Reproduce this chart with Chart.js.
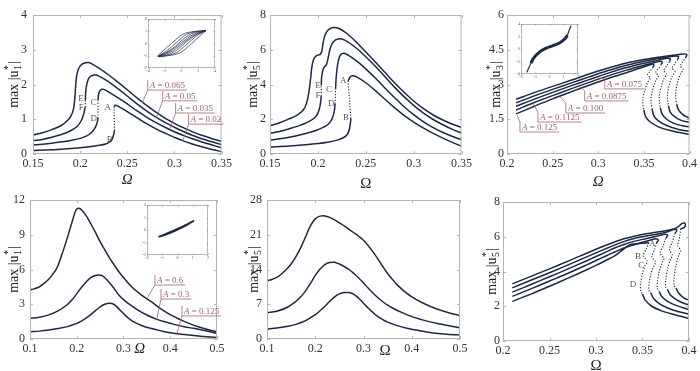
<!DOCTYPE html>
<html><head><meta charset="utf-8">
<script src="https://cdn.jsdelivr.net/npm/chart.js@4.4.1/dist/chart.umd.min.js"></script>
<style>
html,body{margin:0;padding:0;background:#fff;}
#wrap{position:relative;width:700px;height:371px;overflow:hidden;background:#fff;}
canvas{position:absolute;}
</style></head><body>
<div id="wrap">
<canvas id="c1"></canvas><canvas id="c2"></canvas><canvas id="c3"></canvas>
<canvas id="c4"></canvas><canvas id="c5"></canvas><canvas id="c6"></canvas>
<canvas id="i1"></canvas><canvas id="i3"></canvas><canvas id="i4"></canvas>
</div>
<script>
// ---------- tick labels ----------
const p1_xTicks = [0.15, 0.2, 0.25, 0.3, 0.35];
const p1_yTicks = [0, 1, 2, 3, 4];
const p2_xTicks = [0.15, 0.2, 0.25, 0.3, 0.35];
const p2_yTicks = [0, 2, 4, 6, 8];
const p3_xTicks = [0.2, 0.25, 0.3, 0.35, 0.4];
const p3_yTicks = [0, 1.5, 3, 4.5, 6];
const p4_xTicks = [0.1, 0.2, 0.3, 0.4, 0.5];
const p4_yTicks = [0, 3, 6, 9, 12];
const p5_xTicks = [0.1, 0.2, 0.3, 0.4, 0.5];
const p5_yTicks = [0, 7, 14, 21, 28];
const p6_xTicks = [0.2, 0.25, 0.3, 0.35, 0.4];
const p6_yTicks = [0, 2, 4, 6, 8];
const i1_xTicks = [-4, -2, 0, 2, 4];
const i1_yTicks = [-2, -1, 0, 1, 2];
const i3_xTicks = [-2, -1, 0, 1, 2];
const i3_yTicks = [-4, -2, 0, 2, 4];
const i4_xTicks = [-2, -1, 0, 1, 2];
const i4_yTicks = [-2, -1, 0, 1, 2];

// ---------- panel 1 : max|u1*| vs Omega, A = 0.065, 0.05, 0.035, 0.02 ----------
const p1_a065 = [[0.15,0.55],[0.16,0.61],[0.17,0.7],[0.18,0.82],[0.186,0.95],[0.19,1.08],[0.193,1.3],[0.1945,1.65],[0.1955,2.05],[0.197,2.35],[0.2,2.53],[0.204,2.61],[0.209,2.63],[0.212,2.6],[0.22,2.47],[0.23,2.28],[0.24,2.07],[0.25,1.85],[0.26,1.62],[0.27,1.41],[0.28,1.21],[0.29,1.03],[0.3,0.88],[0.31,0.75],[0.32,0.63],[0.33,0.53],[0.34,0.44],[0.35,0.36]];
const p1_a05_lo = [[0.15,0.38],[0.16,0.42],[0.17,0.48],[0.18,0.56],[0.19,0.67],[0.197,0.8],[0.201,0.95],[0.2035,1.12],[0.205,1.3],[0.2055,1.35]];
const p1_a05_un = [[0.2055,1.35],[0.2055,1.55]];
const p1_a05_up = [[0.2055,1.55],[0.206,1.8],[0.207,2.0],[0.209,2.17],[0.212,2.25],[0.216,2.27],[0.22,2.24],[0.23,2.08],[0.24,1.88],[0.25,1.67],[0.26,1.45],[0.27,1.25],[0.28,1.07],[0.29,0.91],[0.3,0.77],[0.31,0.64],[0.32,0.53],[0.33,0.43],[0.34,0.35],[0.35,0.27]];
const p1_a035_lo = [[0.15,0.26],[0.16,0.28],[0.17,0.31],[0.18,0.35],[0.19,0.39],[0.2,0.45],[0.207,0.52],[0.212,0.62],[0.216,0.76],[0.218,0.9],[0.219,1.03]];
const p1_a035_un = [[0.219,1.03],[0.219,1.55]];
const p1_a035_up = [[0.219,1.55],[0.2195,1.7],[0.2205,1.8],[0.2225,1.86],[0.225,1.86],[0.23,1.79],[0.24,1.62],[0.25,1.44],[0.26,1.25],[0.27,1.07],[0.28,0.91],[0.29,0.77],[0.3,0.64],[0.31,0.53],[0.32,0.43],[0.33,0.34],[0.34,0.26],[0.35,0.18]];
const p1_a02_lo = [[0.15,0.1],[0.17,0.12],[0.19,0.16],[0.2,0.18],[0.21,0.21],[0.22,0.25],[0.227,0.29],[0.231,0.34],[0.234,0.43],[0.2355,0.55],[0.2365,0.68]];
const p1_a02_un = [[0.2365,0.68],[0.236,1.36]];
const p1_a02_up = [[0.236,1.36],[0.2375,1.4],[0.24,1.38],[0.25,1.22],[0.26,1.05],[0.27,0.88],[0.28,0.73],[0.29,0.6],[0.3,0.48],[0.31,0.37],[0.32,0.28],[0.33,0.2],[0.34,0.13],[0.35,0.07]];

// ---------- panel 2 : max|u5*| ----------
const p2_c1 = [[0.15,1.62],[0.16,1.8],[0.17,2.02],[0.178,2.22],[0.185,2.55],[0.188,2.9],[0.1905,3.5],[0.1925,4.4],[0.194,5.1],[0.196,5.5],[0.199,5.68],[0.202,5.72],[0.204,5.9],[0.2055,6.4],[0.2075,6.85],[0.211,7.15],[0.216,7.28],[0.222,7.22],[0.23,6.95],[0.24,6.45],[0.25,5.88],[0.26,5.3],[0.27,4.7],[0.28,4.1],[0.29,3.55],[0.3,3.05],[0.31,2.62],[0.32,2.26],[0.33,1.97],[0.34,1.73],[0.35,1.53]];
const p2_c2_lo = [[0.15,1.19],[0.16,1.3],[0.17,1.45],[0.18,1.62],[0.19,1.85],[0.197,2.1],[0.2,2.35],[0.202,2.7],[0.203,3.05],[0.2035,3.35]];
const p2_c2_un = [[0.2035,3.35],[0.2035,3.95]];
const p2_c2_up = [[0.2035,3.95],[0.204,4.45],[0.2055,4.88],[0.2075,5.05],[0.209,5.15],[0.211,5.6],[0.213,6.1],[0.216,6.45],[0.221,6.62],[0.228,6.55],[0.24,6.1],[0.25,5.6],[0.26,5.05],[0.27,4.45],[0.28,3.85],[0.29,3.3],[0.3,2.8],[0.31,2.37],[0.32,2.0],[0.33,1.7],[0.34,1.43],[0.35,1.2]];
const p2_c3_lo = [[0.15,0.8],[0.16,0.88],[0.17,0.97],[0.18,1.08],[0.19,1.22],[0.2,1.4],[0.208,1.6],[0.213,1.85],[0.216,2.2],[0.2175,2.6],[0.218,2.9]];
const p2_c3_un = [[0.218,2.9],[0.2185,3.75]];
const p2_c3_up = [[0.2185,3.75],[0.219,4.3],[0.22,4.9],[0.2215,5.4],[0.2235,5.7],[0.227,5.8],[0.232,5.68],[0.24,5.37],[0.25,4.9],[0.26,4.37],[0.27,3.8],[0.28,3.25],[0.29,2.72],[0.3,2.27],[0.31,1.87],[0.32,1.53],[0.33,1.25],[0.34,1.02],[0.35,0.82]];
const p2_c4_lo = [[0.15,0.4],[0.17,0.46],[0.19,0.54],[0.2,0.6],[0.21,0.68],[0.22,0.8],[0.227,0.95],[0.231,1.15],[0.233,1.45],[0.234,1.8],[0.2345,2.05]];
const p2_c4_un = [[0.2345,2.05],[0.2315,4.2]];
const p2_c4_up = [[0.2315,4.2],[0.2335,4.42],[0.236,4.5],[0.24,4.45],[0.25,4.1],[0.26,3.65],[0.27,3.15],[0.28,2.67],[0.29,2.22],[0.3,1.84],[0.31,1.5],[0.32,1.2],[0.33,0.93],[0.34,0.68],[0.35,0.45]];

// ---------- panel 3 : max|u3*|, A = 0.075 ... 0.125 (upper / unstable / lower) ----------
const p3_k0_up = [[0.21,2.36],[0.23,2.65],[0.25,2.92],[0.27,3.18],[0.29,3.45],[0.31,3.7],[0.33,3.92],[0.35,4.08],[0.37,4.2],[0.385,4.27],[0.393,4.32],[0.397,4.3],[0.396,4.18]];
const p3_k0_un = [[0.396,4.18],[0.393,4.0],[0.39,3.8],[0.393,3.65],[0.39,3.45],[0.387,3.1],[0.385,2.7],[0.385,2.35],[0.386,2.15]];
const p3_k0_lo = [[0.386,2.15],[0.388,1.9],[0.392,1.72],[0.396,1.62],[0.4,1.54]];
const p3_k1_up = [[0.21,2.21],[0.23,2.51],[0.25,2.79],[0.27,3.06],[0.29,3.33],[0.31,3.59],[0.33,3.82],[0.35,4.0],[0.365,4.12],[0.378,4.2],[0.385,4.23],[0.388,4.2],[0.387,4.08]];
const p3_k1_un = [[0.387,4.08],[0.384,3.9],[0.381,3.7],[0.384,3.55],[0.381,3.35],[0.378,3.0],[0.376,2.6],[0.376,2.3],[0.377,2.08]];
const p3_k1_lo = [[0.377,2.08],[0.379,1.8],[0.384,1.6],[0.391,1.45],[0.4,1.36]];
const p3_k2_up = [[0.21,2.06],[0.23,2.37],[0.25,2.66],[0.27,2.94],[0.29,3.21],[0.31,3.48],[0.33,3.72],[0.35,3.92],[0.365,4.05],[0.375,4.13],[0.379,4.1],[0.378,3.98]];
const p3_k2_un = [[0.378,3.98],[0.375,3.8],[0.372,3.6],[0.375,3.45],[0.372,3.25],[0.369,2.9],[0.367,2.52],[0.367,2.22],[0.368,2.0]];
const p3_k2_lo = [[0.368,2.0],[0.37,1.72],[0.375,1.5],[0.383,1.32],[0.391,1.23],[0.4,1.17]];
const p3_k3_up = [[0.21,1.9],[0.23,2.22],[0.25,2.52],[0.27,2.81],[0.29,3.09],[0.31,3.36],[0.33,3.61],[0.35,3.83],[0.362,3.95],[0.368,4.0],[0.37,3.97],[0.369,3.86]];
const p3_k3_un = [[0.369,3.86],[0.366,3.7],[0.363,3.52],[0.366,3.37],[0.363,3.17],[0.36,2.83],[0.358,2.47],[0.358,2.18],[0.359,1.95]];
const p3_k3_lo = [[0.359,1.95],[0.361,1.65],[0.366,1.43],[0.375,1.23],[0.387,1.07],[0.4,0.98]];
const p3_k4_up = [[0.21,1.73],[0.23,2.06],[0.25,2.38],[0.27,2.68],[0.29,2.97],[0.31,3.25],[0.33,3.5],[0.345,3.7],[0.355,3.83],[0.36,3.88],[0.361,3.84],[0.36,3.74]];
const p3_k4_un = [[0.36,3.74],[0.357,3.58],[0.354,3.42],[0.357,3.28],[0.354,3.08],[0.351,2.75],[0.349,2.4],[0.349,2.12],[0.35,1.9]];
const p3_k4_lo = [[0.35,1.9],[0.352,1.6],[0.357,1.38],[0.366,1.17],[0.38,1.0],[0.4,0.84]];

// ---------- panel 4 : max|u1*|, A = 0.6, 0.3, 0.125 ----------
const p4_a06 = [[0.1,4.23],[0.11,4.35],[0.12,4.5],[0.13,4.8],[0.14,5.15],[0.15,5.67],[0.155,5.95],[0.16,6.35],[0.17,7.5],[0.18,8.75],[0.19,10.1],[0.196,10.9],[0.2,11.22],[0.205,11.28],[0.21,11.15],[0.22,10.65],[0.23,9.95],[0.24,9.2],[0.25,8.4],[0.26,7.7],[0.27,7.0],[0.28,6.4],[0.29,5.8],[0.3,5.3],[0.32,4.4],[0.34,3.75],[0.36,3.2],[0.38,2.6],[0.4,2.1],[0.42,1.7],[0.44,1.35],[0.46,1.05],[0.48,0.82],[0.5,0.63]];
const p4_a03 = [[0.1,1.78],[0.12,1.88],[0.14,2.08],[0.16,2.42],[0.18,2.98],[0.19,3.38],[0.2,3.92],[0.21,4.45],[0.22,4.92],[0.23,5.3],[0.24,5.48],[0.247,5.53],[0.255,5.45],[0.265,5.1],[0.28,4.35],[0.29,3.8],[0.3,3.4],[0.31,3.08],[0.33,2.52],[0.35,2.07],[0.37,1.72],[0.39,1.46],[0.41,1.24],[0.43,1.06],[0.45,0.92],[0.47,0.76],[0.5,0.49]];
const p4_a0125 = [[0.1,0.63],[0.12,0.68],[0.14,0.77],[0.16,0.9],[0.18,1.07],[0.2,1.35],[0.21,1.55],[0.22,1.8],[0.23,2.1],[0.24,2.45],[0.25,2.78],[0.26,3.0],[0.27,3.08],[0.28,2.98],[0.29,2.6],[0.3,2.2],[0.31,1.82],[0.32,1.52],[0.34,1.15],[0.36,0.9],[0.38,0.7],[0.4,0.53],[0.43,0.38],[0.46,0.26],[0.5,0.14]];

// ---------- panel 5 : max|u5*| ----------
const p5_c1 = [[0.1,11.75],[0.11,12.0],[0.12,12.4],[0.13,13.1],[0.14,14.0],[0.15,15.1],[0.16,16.6],[0.17,18.4],[0.18,20.6],[0.19,22.8],[0.2,24.2],[0.21,24.75],[0.22,24.8],[0.23,24.5],[0.24,24.0],[0.25,23.4],[0.26,22.8],[0.27,22.1],[0.28,21.4],[0.29,20.7],[0.3,19.9],[0.31,18.8],[0.32,17.5],[0.33,16.1],[0.34,14.6],[0.35,13.2],[0.36,12.0],[0.37,10.9],[0.38,10.0],[0.39,9.2],[0.4,8.5],[0.42,7.4],[0.44,6.5],[0.46,5.8],[0.48,5.2],[0.5,4.7]];
const p5_c2 = [[0.1,5.3],[0.12,5.6],[0.14,6.3],[0.16,7.6],[0.17,8.5],[0.18,9.7],[0.19,11.2],[0.2,12.8],[0.21,14.1],[0.22,15.0],[0.23,15.4],[0.24,15.45],[0.25,15.1],[0.26,14.6],[0.27,14.0],[0.28,13.2],[0.29,12.3],[0.3,11.3],[0.31,10.2],[0.32,9.2],[0.33,8.3],[0.34,7.5],[0.35,6.8],[0.36,6.25],[0.38,5.3],[0.4,4.5],[0.42,3.9],[0.44,3.4],[0.46,3.0],[0.48,2.6],[0.5,2.28]];
const p5_c3 = [[0.1,2.0],[0.12,2.2],[0.14,2.5],[0.16,2.95],[0.18,3.7],[0.2,4.9],[0.21,5.7],[0.22,6.6],[0.23,7.6],[0.24,8.5],[0.25,9.1],[0.26,9.35],[0.27,9.35],[0.28,9.0],[0.29,8.2],[0.3,7.2],[0.31,6.2],[0.32,5.3],[0.33,4.5],[0.34,3.9],[0.35,3.4],[0.37,2.7],[0.39,2.15],[0.42,1.6],[0.45,1.15],[0.48,0.92],[0.5,0.8]];

// ---------- panel 6 : max|u5*| (upper / unstable / lower) ----------
const p6_k0_up = [[0.21,3.29],[0.23,3.72],[0.25,4.15],[0.27,4.6],[0.29,5.05],[0.3,5.28],[0.31,5.5],[0.32,5.7],[0.33,5.88],[0.34,6.02],[0.35,6.13],[0.36,6.22],[0.37,6.3],[0.38,6.4],[0.386,6.5],[0.39,6.65],[0.393,6.78],[0.396,6.75],[0.395,6.55],[0.391,6.45]];
const p6_k0_un = [[0.391,6.45],[0.39,6.0],[0.388,5.5],[0.391,5.2],[0.389,4.95],[0.386,4.35],[0.384,3.65],[0.384,3.2],[0.386,3.05]];
const p6_k0_lo = [[0.386,3.05],[0.389,2.75],[0.394,2.5],[0.4,2.35]];
const p6_k1_up = [[0.21,3.06],[0.23,3.5],[0.25,3.93],[0.27,4.38],[0.29,4.84],[0.3,5.07],[0.31,5.3],[0.32,5.52],[0.33,5.72],[0.34,5.88],[0.35,6.0],[0.36,6.1],[0.37,6.2],[0.378,6.3],[0.384,6.42],[0.387,6.38],[0.385,6.2]];
const p6_k1_un = [[0.385,6.2],[0.382,5.7],[0.379,5.25],[0.382,4.95],[0.38,4.7],[0.377,4.15],[0.375,3.5],[0.375,3.1],[0.377,2.95]];
const p6_k1_lo = [[0.377,2.95],[0.38,2.65],[0.386,2.4],[0.393,2.2],[0.4,2.08]];
const p6_k2_up = [[0.21,2.81],[0.23,3.25],[0.25,3.7],[0.27,4.15],[0.29,4.62],[0.3,4.86],[0.31,5.1],[0.32,5.35],[0.33,5.55],[0.34,5.72],[0.35,5.85],[0.36,5.97],[0.368,6.07],[0.374,6.15],[0.377,6.08],[0.375,5.9]];
const p6_k2_un = [[0.375,5.9],[0.372,5.45],[0.369,5.05],[0.373,4.75],[0.371,4.5],[0.368,4.0],[0.366,3.4],[0.366,3.0],[0.368,2.85]];
const p6_k2_lo = [[0.368,2.85],[0.371,2.55],[0.377,2.28],[0.386,2.05],[0.4,1.8]];
const p6_k3_up = [[0.21,2.57],[0.23,3.0],[0.25,3.45],[0.27,3.9],[0.29,4.38],[0.3,4.63],[0.31,4.88],[0.32,5.12],[0.33,5.35],[0.34,5.52],[0.35,5.68],[0.358,5.8],[0.364,5.88],[0.367,5.8],[0.365,5.65]];
const p6_k3_un = [[0.365,5.65],[0.363,5.25],[0.36,4.85],[0.364,4.55],[0.362,4.3],[0.359,3.85],[0.357,3.3],[0.357,2.9],[0.359,2.75]];
const p6_k3_lo = [[0.359,2.75],[0.362,2.45],[0.368,2.15],[0.377,1.9],[0.388,1.7],[0.4,1.55]];
const p6_k4_up = [[0.21,2.28],[0.23,2.7],[0.25,3.15],[0.27,3.62],[0.29,4.1],[0.3,4.35],[0.31,4.62],[0.32,4.9],[0.33,5.3],[0.335,5.5],[0.34,5.58],[0.35,5.62],[0.357,5.65]];
const p6_k4_un = [[0.357,5.65],[0.354,5.3],[0.351,4.9],[0.355,4.6],[0.353,4.35],[0.35,3.9],[0.348,3.3],[0.348,2.9],[0.35,2.7]];
const p6_k4_lo = [[0.35,2.7],[0.353,2.35],[0.36,2.0],[0.37,1.75],[0.38,1.58],[0.39,1.44],[0.4,1.3]];

// ---------- insets ----------
const i1_loop1 = [[2.9,1.05],[1.5,0.98],[0.5,0.85],[-0.2,0.6],[-0.7,0.3],[-1.2,0],[-1.7,-0.3],[-2.2,-0.6],[-2.8,-1.05],[-1.5,-0.98],[-0.5,-0.85],[0.2,-0.6],[0.7,-0.3],[1.2,0],[1.7,0.3],[2.2,0.6],[2.9,1.05]];
const i1_loop2 = [[2.9,1.05],[1.5,0.95],[0.6,0.75],[0.1,0.5],[-0.4,0.2],[-0.9,-0.1],[-1.5,-0.45],[-2.1,-0.75],[-2.8,-1.05],[-1.5,-0.95],[-0.6,-0.75],[-0.1,-0.5],[0.4,-0.2],[0.9,0.1],[1.5,0.45],[2.1,0.75],[2.9,1.05]];
const i1_loop3 = [[2.9,1.05],[1.6,0.9],[0.8,0.65],[0.3,0.4],[-0.2,0.1],[-0.7,-0.2],[-1.3,-0.5],[-2.0,-0.8],[-2.8,-1.05],[-1.6,-0.9],[-0.8,-0.65],[-0.3,-0.4],[0.2,-0.1],[0.7,0.2],[1.3,0.5],[2.0,0.8],[2.9,1.05]];
const i1_loop4 = [[2.9,1.05],[1.8,0.85],[1.0,0.58],[0.5,0.33],[0,0.08],[-0.5,-0.2],[-1.1,-0.5],[-1.9,-0.8],[-2.8,-1.05],[-1.8,-0.85],[-1.0,-0.58],[-0.5,-0.33],[0,-0.08],[0.5,0.2],[1.1,0.5],[1.9,0.8],[2.9,1.05]];
const i3_curve = [[-1.59,-3.74],[-1.45,-3.0],[-1.34,-2.45],[-1.2,-1.85],[-1.1,-1.42],[-0.9,-0.9],[-0.73,-0.54],[-0.5,-0.2],[-0.24,0.13],[0,0.33],[0.24,0.54],[0.5,0.76],[0.73,1.01],[0.95,1.35],[1.1,1.68],[1.25,2.2],[1.34,2.71],[1.42,3.2],[1.51,3.74]];
const i3_band = [[-1.3,-2.25],[-1.1,-1.42],[-0.73,-0.54],[-0.24,0.13],[0.24,0.54],[0.73,1.01],[1.1,1.68],[1.25,2.2]];
const i4_loop = [[-1.25,-0.55],[-0.6,-0.22],[0,0.1],[0.5,0.38],[1.05,0.72],[0.5,0.33],[0,0.03],[-0.6,-0.3],[-1.25,-0.55]];

// ---------- annotation texts ----------
const p1_labels = [
  {t:'0.065', x:0.2717, y:1.84, lx:0.266, ly:1.47},
  {t:'0.05',  x:0.2876, y:1.53, lx:0.281, ly:1.05},
  {t:'0.035', x:0.3013, y:1.18, lx:0.295, ly:0.71},
  {t:'0.02',  x:0.315,  y:0.86, lx:0.309, ly:0.38}];
const p3_labels = [
  {t:'0.075',  x:0.3071, y:2.81, lx:0.2984, ly:3.3},
  {t:'0.0875', x:0.2852, y:2.29, lx:0.2776, ly:2.98},
  {t:'0.100',  x:0.2645, y:1.77, lx:0.2579, ly:2.46},
  {t:'0.1125', x:0.2339, y:1.38, lx:0.2284, ly:2.2},
  {t:'0.125',  x:0.2142, y:0.95, lx:0.2109, ly:1.68}];
const p4_labels = [
  {t:'0.6',   x:0.3674, y:4.66, lx:0.35,   ly:3.5},
  {t:'0.3',   x:0.3802, y:3.45, lx:0.3717, ly:1.8},
  {t:'0.125', x:0.4251, y:1.99, lx:0.4144, ly:0.48}];
const p1_letters = [['A',0.2294,1.32],['B',0.2315,0.42],['C',0.2145,1.48],['D',0.2145,1.03],['E',0.2008,1.58],['F',0.2011,1.34]];
const p2_letters = [['A',0.2265,4.2],['B',0.2295,2.11],['C',0.2115,3.72],['D',0.2139,2.92],['E',0.2001,3.95],['F',0.2001,3.35]];
const p6_letters = [['A',0.3606,5.59],['B',0.3452,4.88],['C',0.3487,4.34],['D',0.3398,3.25]];

// ---------- drawing helpers ----------
const SERIF = '"Liberation Serif", "DejaVu Serif", serif';
const COL = '#1b2846';
function solid(pts, w){ return {data: pts.map(p=>({x:p[0],y:p[1]})), borderColor:COL, borderWidth:w||1.5, pointRadius:0, showLine:true, tension:0.35, fill:false}; }
function dotted(pts){ return {data: pts.map(p=>({x:p[0],y:p[1]})), borderColor:COL, borderWidth:1.1, borderDash:[1.2,1.6], pointRadius:0, showLine:true, tension:0.3, fill:false}; }
function branches(up, un, lo){ return [solid(up), dotted(un), solid(lo)]; }

function drawYTitle(ctx, cx, cy, sub){
  ctx.save(); ctx.translate(cx, cy); ctx.rotate(-Math.PI/2);
  ctx.fillStyle = '#222'; ctx.textAlign = 'left'; ctx.textBaseline = 'alphabetic';
  const F1 = '14px ' + SERIF, F2 = '10px ' + SERIF;
  ctx.font = F1; const w1 = ctx.measureText('max |u').width, w3 = ctx.measureText('|').width;
  ctx.font = F2; const w2 = Math.max(ctx.measureText('*').width, ctx.measureText(sub).width);
  let x = -(w1 + w2 + 1.5 + w3) / 2; const base = 5;
  ctx.font = F1; ctx.fillText('max |u', x, base); x += w1 + 0.5;
  ctx.font = F2; ctx.fillText('*', x, base - 7); ctx.fillText(sub, x, base + 3); x += w2 + 1;
  ctx.font = F1; ctx.fillText('|', x, base);
  ctx.restore();
}

function deco(cfg){
  return {
    id: 'deco_' + cfg.id,
    beforeDatasetsDraw(chart){
      if (cfg.inset){ const a = chart.chartArea, c = chart.ctx; c.save(); c.fillStyle = '#fff'; c.fillRect(a.left, a.top, a.right-a.left, a.bottom-a.top); c.restore(); }
    },
    afterDatasetsDraw(chart){
      const c = chart.ctx, a = chart.chartArea, xs = chart.scales.x, ys = chart.scales.y;
      c.save();
      // frame
      c.strokeStyle = cfg.inset ? '#888' : '#b5b5b5'; c.lineWidth = cfg.inset ? 0.6 : 1;
      c.strokeRect(a.left + 0.5, a.top + 0.5, a.right - a.left - 1, a.bottom - a.top - 1);
      // inward ticks on all four sides
      const tl = cfg.inset ? 1.5 : 3;
      c.beginPath();
      cfg.xt.forEach(v => { const px = Math.round(xs.getPixelForValue(v)) + 0.5; c.moveTo(px, a.bottom); c.lineTo(px, a.bottom - tl); c.moveTo(px, a.top); c.lineTo(px, a.top + tl); });
      cfg.yt.forEach(v => { const py = Math.round(ys.getPixelForValue(v)) + 0.5; c.moveTo(a.left, py); c.lineTo(a.left + tl, py); c.moveTo(a.right, py); c.lineTo(a.right - tl, py); });
      c.stroke();
      // letters
      if (cfg.letters){
        c.fillStyle = '#5a5a5a'; c.font = '9px ' + SERIF; c.textAlign = 'center'; c.textBaseline = 'middle';
        cfg.letters.forEach(L => c.fillText(L[0], xs.getPixelForValue(L[1]), ys.getPixelForValue(L[2])));
      }
      // A = ... labels
      if (cfg.labels){
        const lc = '#a0646c';
        cfg.labels.forEach(L => {
          const px = xs.getPixelForValue(L.x), py = ys.getPixelForValue(L.y);
          const ex = xs.getPixelForValue(L.lx), ey = ys.getPixelForValue(L.ly);
          c.textAlign = 'left'; c.textBaseline = 'alphabetic'; c.fillStyle = lc;
          c.font = 'italic 9px ' + SERIF; const wa = c.measureText('A').width; c.fillText('A', px + 2, py - 2);
          c.font = '9px ' + SERIF; const rest = ' = ' + L.t; const wr = c.measureText(rest).width; c.fillText(rest, px + 2 + wa, py - 2);
          const w = wa + wr + 4;
          c.strokeStyle = lc; c.lineWidth = 0.8; c.beginPath();
          c.moveTo(px, py - 10); c.lineTo(px, py); c.lineTo(px + w, py);
          const sy = (ey < py - 5) ? py - 10 : py;
          c.moveTo(px, sy); c.lineTo(ex, ey); c.stroke();
        });
      }
      // axis titles
      if (cfg.ysub) drawYTitle(c, a.left + cfg.ydx, (a.top + a.bottom) / 2, cfg.ysub);
      if (cfg.omega){
        const o = cfg.omega;
        c.fillStyle = '#222'; c.font = (o.italic ? 'italic ' : '') + '15px ' + SERIF; c.textAlign = 'center'; c.textBaseline = 'middle';
        const ox = (o.x == null) ? (a.left + a.right) / 2 : xs.getPixelForValue(o.x);
        c.fillText('\u03A9', ox, a.bottom + o.dy);
      }
      c.restore();
    }
  };
}

function panel(cfg){
  const cv = document.getElementById(cfg.id);
  const [bl, bt, bw, bh] = cfg.box;
  cv.width = bw; cv.height = bh;
  cv.style.left = bl + 'px'; cv.style.top = bt + 'px'; cv.style.width = bw + 'px'; cv.style.height = bh + 'px';
  const [al, at, ar, ab] = cfg.area;
  const yw = al - bl, pt = at - bt, pr = bl + bw - ar, xh = bt + bh - ab;
  const fs = cfg.inset ? 4 : 12;
  const tcol = cfg.inset ? '#555' : '#333';
  new Chart(cv, {
    type: 'scatter',
    data: { datasets: cfg.datasets },
    options: {
      responsive: false, animation: false, events: [],
      layout: { padding: { top: pt, right: pr, left: 0, bottom: 0 } },
      plugins: { legend: { display: false }, tooltip: { enabled: false } },
      scales: {
        x: { type: 'linear', min: cfg.xr[0], max: cfg.xr[1],
             grid: { display: false, drawTicks: false }, border: { display: false },
             ticks: { font: { family: SERIF, size: fs }, color: tcol, padding: cfg.inset ? 1 : 3, autoSkip: false, maxRotation: 0, minRotation: 0, callback: v => String(v) },
             afterBuildTicks: s => { s.ticks = cfg.xt.map(v => ({ value: v })); },
             afterFit: s => { s.height = xh; } },
        y: { type: 'linear', min: cfg.yr[0], max: cfg.yr[1],
             grid: { display: false, drawTicks: false }, border: { display: false },
             ticks: { font: { family: SERIF, size: fs }, color: tcol, padding: cfg.ypad, autoSkip: false, callback: v => String(v) },
             afterBuildTicks: s => { s.ticks = cfg.yt.map(v => ({ value: v })); },
             afterFit: s => { s.width = yw; } }
      }
    },
    plugins: [deco(cfg)]
  });
}

// ---------- build panels ----------
panel({ id:'c1', box:[0,0,235,190], area:[33,15,222,154], xr:[0.15,0.35], yr:[0,4], xt:p1_xTicks, yt:p1_yTicks, ypad:6,
  datasets:[solid(p1_a065), ...branches(p1_a05_lo,p1_a05_un,p1_a05_up), ...branches(p1_a035_lo,p1_a035_un,p1_a035_up), ...branches(p1_a02_lo,p1_a02_un,p1_a02_up)],
  ysub:'1', ydx:-20, omega:{italic:true, dy:26}, labels:p1_labels, letters:p1_letters });

panel({ id:'c2', box:[235,0,240,190], area:[270,15,463,154], xr:[0.15,0.35], yr:[0,8], xt:p2_xTicks, yt:p2_yTicks, ypad:4,
  datasets:[solid(p2_c1), ...branches(p2_c2_lo,p2_c2_un,p2_c2_up), ...branches(p2_c3_lo,p2_c3_un,p2_c3_up), ...branches(p2_c4_lo,p2_c4_un,p2_c4_up)],
  ysub:'5', ydx:-18, omega:{italic:false, dy:30}, letters:p2_letters });

panel({ id:'c3', box:[475,0,225,190], area:[507,15,690,154], xr:[0.2,0.4], yr:[0,6], xt:p3_xTicks, yt:p3_yTicks, ypad:3,
  datasets:[...branches(p3_k0_up,p3_k0_un,p3_k0_lo), ...branches(p3_k1_up,p3_k1_un,p3_k1_lo), ...branches(p3_k2_up,p3_k2_un,p3_k2_lo), ...branches(p3_k3_up,p3_k3_un,p3_k3_lo), ...branches(p3_k4_up,p3_k4_un,p3_k4_lo)],
  ysub:'3', ydx:-12, omega:{italic:true, dy:28}, labels:p3_labels });

panel({ id:'c4', box:[0,185,235,186], area:[30,200,217,339], xr:[0.1,0.5], yr:[0,12], xt:p4_xTicks, yt:p4_yTicks, ypad:5,
  datasets:[solid(p4_a06), solid(p4_a03), solid(p4_a0125)],
  ysub:'1', ydx:-17.5, omega:{italic:true, dy:10, x:0.3345}, labels:p4_labels });

panel({ id:'c5', box:[235,185,240,186], area:[267,200,460,339], xr:[0.1,0.5], yr:[0,28], xt:p5_xTicks, yt:p5_yTicks, ypad:5,
  datasets:[solid(p5_c1), solid(p5_c2), solid(p5_c3)],
  ysub:'5', ydx:-14, omega:{italic:false, dy:12, x:0.3446} });

panel({ id:'c6', box:[475,185,225,186], area:[503,202,689,341], xr:[0.2,0.4], yr:[0,8], xt:p6_xTicks, yt:p6_yTicks, ypad:3,
  datasets:[...branches(p6_k0_up,p6_k0_un,p6_k0_lo), ...branches(p6_k1_up,p6_k1_un,p6_k1_lo), ...branches(p6_k2_up,p6_k2_un,p6_k2_lo), ...branches(p6_k3_up,p6_k3_un,p6_k3_lo), ...branches(p6_k4_up,p6_k4_un,p6_k4_lo)],
  ysub:'5', ydx:-12, omega:{italic:false, dy:25}, letters:p6_letters });

// insets
panel({ id:'i1', inset:true, box:[136,15,86,64], area:[148,19,215,68], xr:[-4,4], yr:[-2,2], xt:i1_xTicks, yt:i1_yTicks, ypad:1,
  datasets:[solid(i1_loop1,0.7), solid(i1_loop2,0.7), solid(i1_loop3,0.7), solid(i1_loop4,0.7)] });
panel({ id:'i3', inset:true, box:[509,20,76,63], area:[521,24,578,74], xr:[-2,2], yr:[-4,4], xt:i3_xTicks, yt:i3_yTicks, ypad:1,
  datasets:[solid(i3_curve,1.1), solid(i3_band,3)] });
panel({ id:'i4', inset:true, box:[135,201,80,64], area:[147,205,208,255], xr:[-2,2], yr:[-2,2], xt:i4_xTicks, yt:i4_yTicks, ypad:1,
  datasets:[solid(i4_loop,1.8)] });
</script>
</body></html>
